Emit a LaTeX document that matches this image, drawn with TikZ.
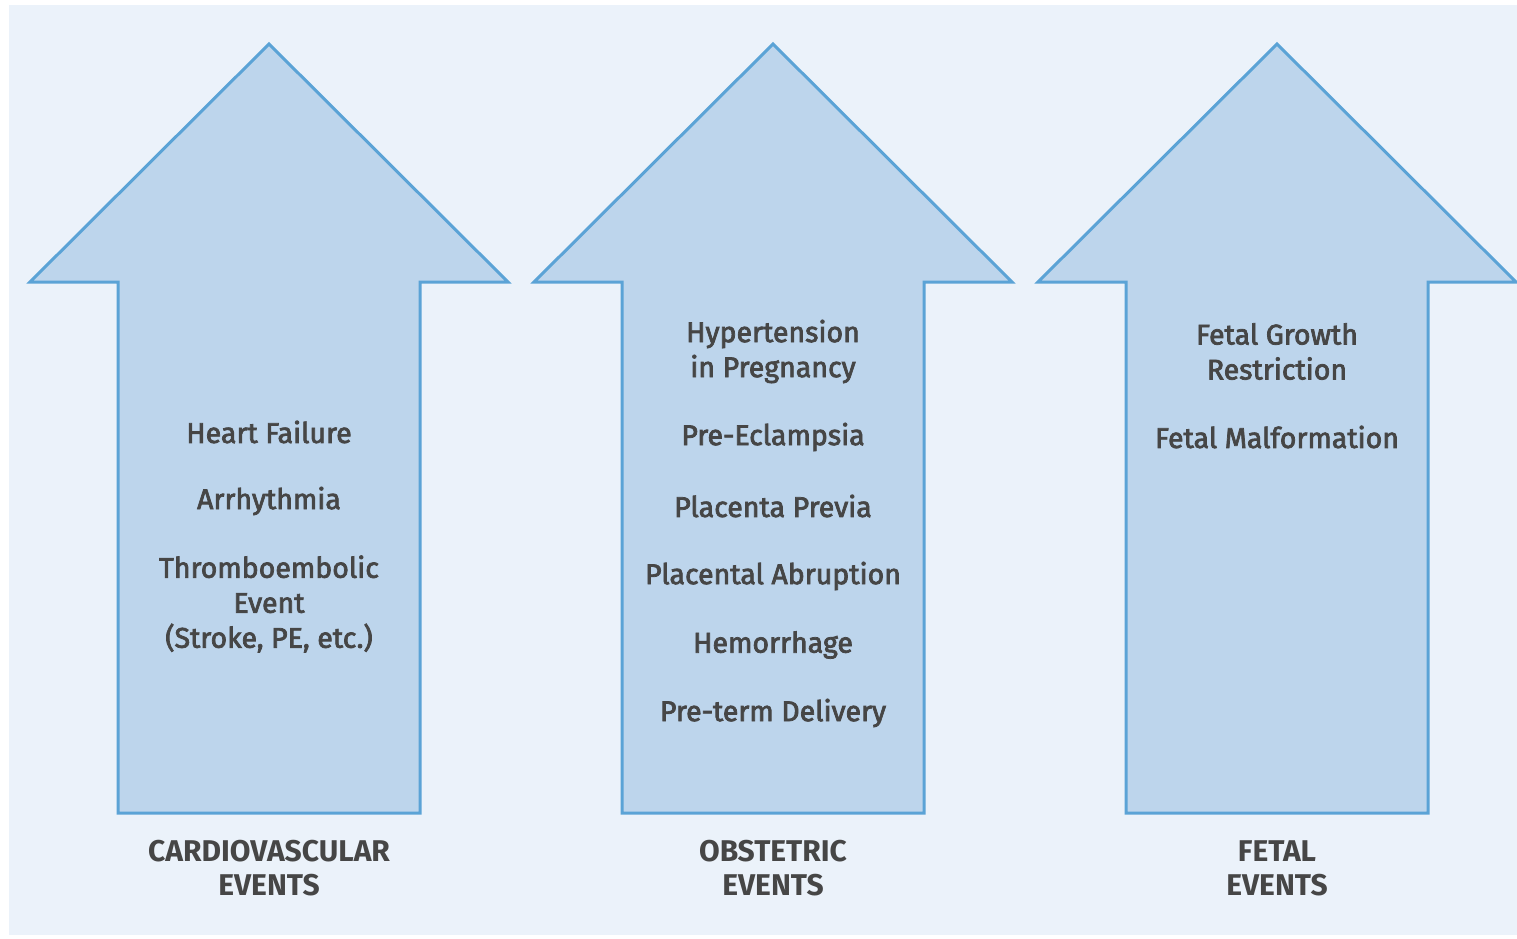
\documentclass[tikz,border=0pt]{standalone}
\usepackage{fontspec}
\setmainfont{Fira Sans}
\newfontfamily\medfont{Fira Sans}[FakeBold=2.6]
\definecolor{bgc}{HTML}{EBF2FA}
\definecolor{arrfill}{HTML}{BDD5EC}
\definecolor{arrline}{HTML}{5BA3D6}
\definecolor{txt}{HTML}{464646}
\begin{document}
\begin{tikzpicture}[x=1pt,y=-1pt,
  bigarrow/.style={fill=arrfill,draw=arrline,line width=3pt,line join=miter},
  item/.style={text=txt,font=\fontsize{28.5}{35}\selectfont\medfont,align=center,inner sep=0pt},
  cat/.style={text=txt,font=\fontsize{30}{34}\selectfont\bfseries,align=center,inner sep=0pt}]
\useasboundingbox (0,0) rectangle (1517,938);
\fill[white] (0,0) rectangle (1517,938);
\fill[bgc] (9,5) rectangle (1517,935);
\foreach \c in {269,773,1277}{
  \draw[bigarrow] (\c,44) -- (\c+239,282) -- (\c+151,282) -- (\c+151,813)
     -- (\c-151,813) -- (\c-151,282) -- (\c-239,282) -- cycle;
}
% cardiovascular
\node[item] (hf) at (269,432) {Heart Failure};
\node[item] (ar) at (269,501) {Arrhythmia};
\node[item] (te) at (269,604) {Thromboembolic\\Event\\(Stroke, PE, etc.)};
\node[cat] (cv) at (269,868) {CARDIOVASCULAR\\EVENTS};
% obstetric
\node[item] (hp) at (773,351.5) {Hypertension\\in Pregnancy};
\node[item] (pe) at (773,437) {Pre-Eclampsia};
\node[item] (pp) at (773,506) {Placenta Previa};
\node[item] (pa) at (773,576) {Placental Abruption};
\node[item] (hm) at (773,645) {Hemorrhage};
\node[item] (pd) at (773,713) {Pre-term Delivery};
\node[cat] (ob) at (773,868) {OBSTETRIC\\EVENTS};
% fetal
\node[item] (fg) at (1277,351.5) {Fetal Growth\\Restriction};
\node[item] (fm) at (1277,437) {Fetal Malformation};
\node[cat] (fe) at (1277,868) {FETAL\\EVENTS};
\end{tikzpicture}
\end{document}
